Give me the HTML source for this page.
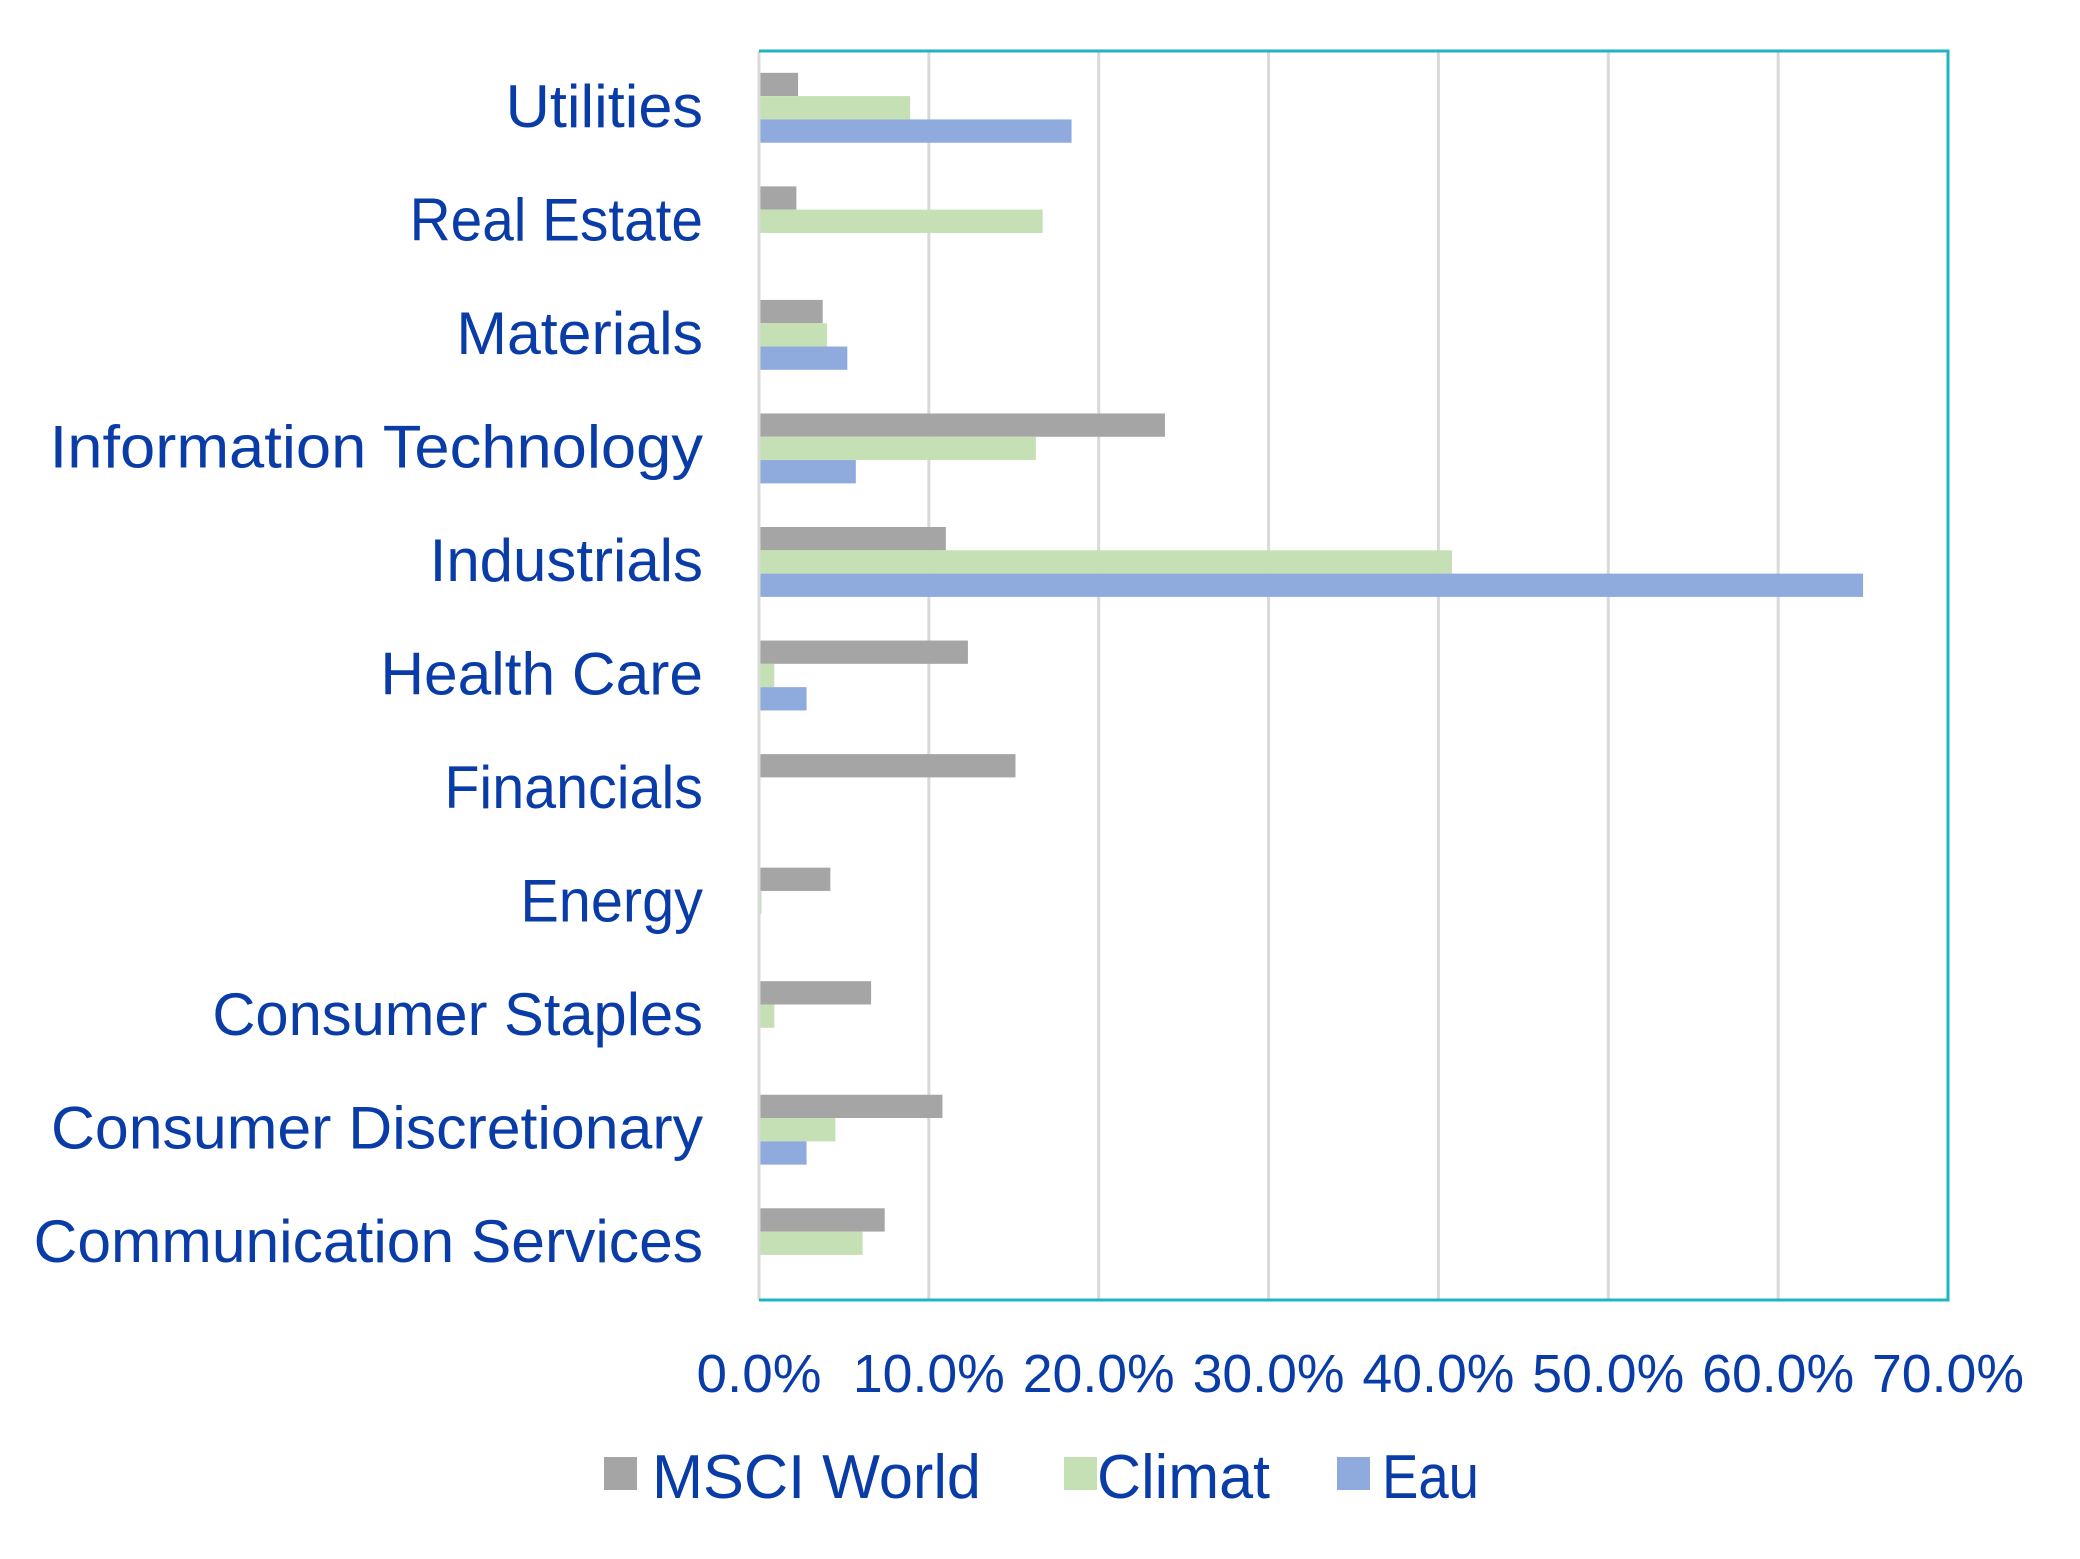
<!DOCTYPE html>
<html><head><meta charset="utf-8"><style>
html,body{margin:0;padding:0;background:#fff;}
svg{display:block;font-family:"Liberation Sans",sans-serif;}
</style></head><body>
<svg id="chart" width="2080" height="1559" viewBox="0 0 2080 1559" xmlns="http://www.w3.org/2000/svg"></svg>
<script>
const categories = ["Utilities","Real Estate","Materials","Information Technology","Industrials","Health Care","Financials","Energy","Consumer Staples","Consumer Discretionary","Communication Services"];
const msciWorld = [2.3,2.2,3.75,23.9,11.0,12.3,15.1,4.2,6.6,10.8,7.4];
const climat = [8.9,16.7,4.0,16.3,40.8,0.9,0,0.15,0.9,4.5,6.1];
const eau = [18.4,0,5.2,5.7,65.0,2.8,0,0,0,2.8,0];
const tickValues = [0,10,20,30,40,50,60,70];
const tickLabels = ["0.0%","10.0%","20.0%","30.0%","40.0%","50.0%","60.0%","70.0%"];
const seriesNames = ["MSCI World","Climat","Eau"];

const NS="http://www.w3.org/2000/svg";
const svg=document.getElementById('chart');
const L=759,R=1948,T=51,B=1300,XMAX=70;
const TXT="#0a3ca8";
const K=4/3;
const labelW=[148,220,185,490,205,242,194,137,368,489,502];
function x(v){return L+(R-L)*v/XMAX;}
const band=(B-T)/categories.length;
function bandY(i){return T+band*i;}
function mk(tag,attrs){const e=document.createElementNS(NS,tag);for(const k in attrs)e.setAttribute(k,attrs[k]);svg.appendChild(e);return e;}

tickValues.forEach((v,i)=>{
  if(v===0)return;
  const g=mk('line',{x1:x(v),x2:x(v),y1:T,y2:B,stroke:'#d9d9d9','stroke-width':3});
  
  
});
const colors=["#a5a5a5","#c5e0b4","#8faadc"];
const series=[msciWorld,climat,eau];
const bh=23.3;
categories.forEach((c,i)=>{
  const cy=bandY(i)+band/2;
  series.forEach((s,j)=>{
    const r=mk('rect',{x:x(0),y:cy-1.5*bh+j*bh,width:Math.max(0,x(s[i])-x(0)),height:bh,fill:colors[j]});
    
    
  });
  const t=mk('text',{x:703,y:cy+19,'text-anchor':'end','font-size':60,fill:TXT,textLength:labelW[i]*K,lengthAdjust:'spacingAndGlyphs'});
  t.textContent=c;
  
  
});
const ax=mk('line',{x1:L,x2:L,y1:T,y2:B,stroke:'#d9d9d9','stroke-width':3});


const fr=mk('path',{d:`M${L} ${T} H${R} V${B} H${L}`,fill:'none',stroke:'#1fb5c0','stroke-width':3});


tickValues.forEach((v,i)=>{
  const t=mk('text',{x:x(v),y:1392,'text-anchor':'middle','font-size':54,fill:TXT,textLength:(v===0?125:152),lengthAdjust:'spacingAndGlyphs'});
  t.textContent=tickLabels[i];
  
  
});
const legX=[[604,652],[1064,1097],[1337,1382]];
const legW=[329,173,97];
seriesNames.forEach((n,j)=>{
  const r=mk('rect',{x:legX[j][0],y:1457,width:33,height:33,fill:colors[j]});
  
  
  const t=mk('text',{x:legX[j][1],y:1498,'font-size':62,fill:TXT,textLength:legW[j],lengthAdjust:'spacingAndGlyphs'});
  t.textContent=n;
  
  
});
</script>
</body></html>
